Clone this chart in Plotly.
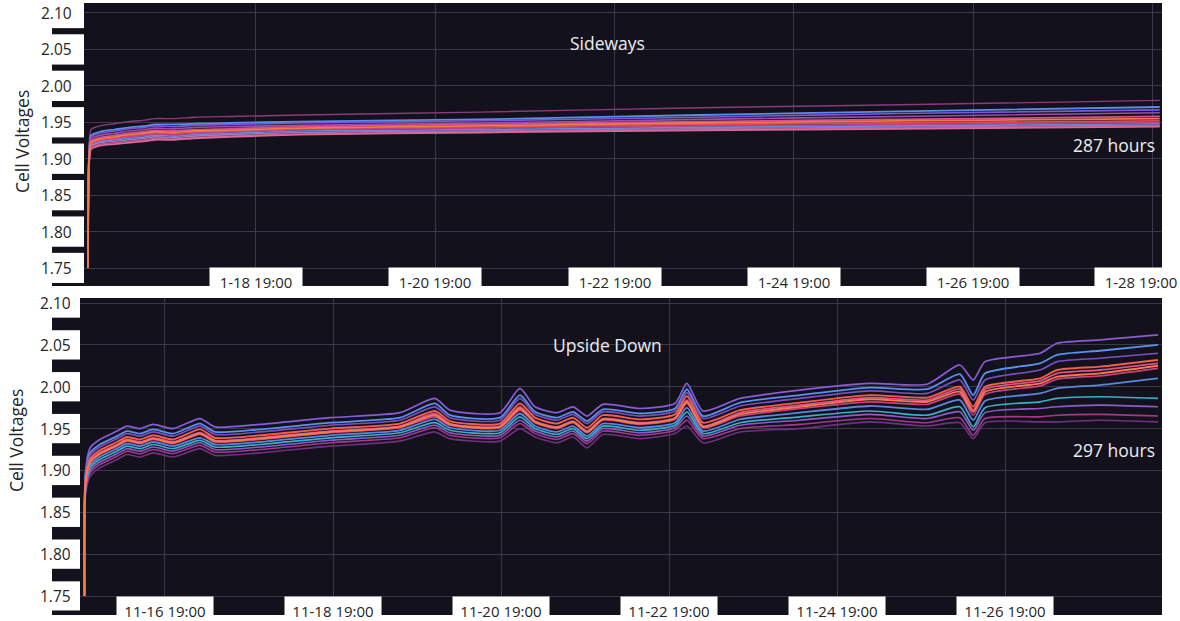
import pandas as pd
import plotly.graph_objects as go

FIG_W, FIG_H = 1180, 621

# ---------------- Sideways run (January) ----------------
SIDEWAYS_START = "2023-01-16 22:00"
sideways_hours = [0, 0.25, 0.8, 3.2, 7.2, 11.2, 15.3, 17.9, 23.3, 28.6, 38.0, 56.8, 105.0, 163.9, 217.4, 287.0]

# cell voltages in mV
sideways_c01 = [1750, 1905, 1940, 1945, 1948, 1951, 1953, 1955, 1955, 1957, 1958, 1960, 1964, 1970, 1974, 1980]
sideways_c02 = [1750, 1900, 1932, 1937, 1940, 1943, 1945, 1947, 1947, 1948, 1949, 1951, 1954, 1960, 1965, 1971]
sideways_c03 = [1750, 1898, 1930, 1935, 1938, 1941, 1943, 1945, 1944, 1946, 1947, 1949, 1952, 1957, 1962, 1967]
sideways_c04 = [1750, 1896, 1927, 1932, 1935, 1938, 1940, 1942, 1941, 1943, 1944, 1946, 1949, 1954, 1958, 1963]
sideways_c05 = [1750, 1894, 1924, 1929, 1932, 1935, 1937, 1939, 1938, 1940, 1941, 1944, 1947, 1951, 1954, 1958]
sideways_c06 = [1750, 1892, 1922, 1927, 1930, 1933, 1935, 1937, 1936, 1938, 1939, 1942, 1945, 1949, 1952, 1955]
sideways_c07 = [1750, 1890, 1920, 1925, 1928, 1931, 1933, 1935, 1934, 1936, 1938, 1941, 1943, 1947, 1949, 1952]
sideways_c08 = [1750, 1889, 1919, 1924, 1927, 1930, 1932, 1934, 1933, 1935, 1937, 1940, 1942, 1945, 1947, 1950]
sideways_c09 = [1750, 1888, 1918, 1923, 1926, 1928, 1930, 1932, 1931, 1933, 1935, 1938, 1940, 1943, 1945, 1948]
sideways_c10 = [1750, 1887, 1917, 1922, 1924, 1926, 1928, 1930, 1929, 1931, 1933, 1936, 1938, 1941, 1943, 1946]
sideways_c11 = [1750, 1886, 1915, 1920, 1922, 1924, 1926, 1928, 1927, 1929, 1931, 1934, 1937, 1940, 1942, 1945]
sideways_c12 = [1750, 1885, 1913, 1918, 1920, 1922, 1924, 1926, 1926, 1928, 1930, 1933, 1936, 1939, 1941, 1944]

# ---------------- Upside-down run (November) ----------------
UPSIDE_START = "2022-11-15 20:00"
upside_hours = [0, 0.3, 1.6, 4.4, 9.3, 12.1, 15.9, 19.6, 25.3, 33.0, 37.3, 50.1, 70.1, 90.1, 100.1, 104.4,
                118.7, 124.4, 128.7, 135.0, 139.6, 143.6, 148.1, 158.7, 168.7, 172.1, 176.7, 187.3, 204.4,
                224.4, 240.7, 250.1, 253.9, 257.3, 273.0, 277.9, 290.1, 306.7]

upside_a = [1750, 1899, 1927, 1937, 1947, 1953, 1950, 1955, 1950, 1962, 1952, 1955, 1963, 1969, 1986, 1972, 1969, 1998, 1976,
            1969, 1976, 1965, 1979, 1974, 1980, 2004, 1971, 1986, 1996, 2004, 2003, 2026, 2008, 2030, 2040, 2052, 2056, 2062]
upside_b = [1750, 1895, 1921, 1931, 1941, 1947, 1944, 1949, 1944, 1956, 1946, 1949, 1957, 1963, 1980, 1966, 1963, 1990, 1970,
            1963, 1970, 1959, 1973, 1968, 1974, 1997, 1965, 1981, 1990, 1999, 1997, 2015, 1990, 2016, 2028, 2038, 2043, 2050]
upside_c = [1750, 1892, 1918, 1928, 1938, 1944, 1941, 1946, 1941, 1953, 1943, 1946, 1954, 1960, 1976, 1963, 1960, 1986, 1967,
            1960, 1967, 1956, 1970, 1965, 1971, 1993, 1962, 1977, 1986, 1995, 1992, 2008, 1984, 2008, 2020, 2030, 2034, 2040]
upside_d = [1750, 1889, 1914, 1924, 1934, 1940, 1937, 1942, 1937, 1949, 1939, 1942, 1950, 1956, 1971, 1959, 1956, 1980, 1963,
            1956, 1963, 1951, 1966, 1961, 1967, 1989, 1957, 1972, 1981, 1990, 1987, 2000, 1976, 2000, 2010, 2020, 2024, 2032]
upside_e = [1750, 1886, 1911, 1921, 1931, 1937, 1934, 1939, 1934, 1945, 1936, 1939, 1947, 1953, 1968, 1956, 1953, 1976, 1959,
            1952, 1959, 1947, 1962, 1957, 1963, 1984, 1953, 1969, 1978, 1987, 1984, 1997, 1972, 1997, 2007, 2016, 2020, 2028]
upside_f = [1750, 1885, 1910, 1920, 1930, 1936, 1933, 1938, 1933, 1944, 1935, 1938, 1946, 1952, 1966, 1955, 1952, 1974, 1958,
            1951, 1958, 1946, 1961, 1956, 1962, 1982, 1952, 1967, 1976, 1985, 1982, 1994, 1970, 1994, 2004, 2012, 2016, 2025]
upside_g = [1750, 1884, 1909, 1919, 1929, 1935, 1932, 1937, 1932, 1943, 1934, 1937, 1945, 1951, 1964, 1954, 1951, 1972, 1957,
            1950, 1957, 1945, 1960, 1955, 1961, 1980, 1951, 1965, 1974, 1982, 1979, 1991, 1966, 1991, 2001, 2009, 2013, 2022]
upside_h = [1750, 1881, 1906, 1916, 1926, 1932, 1929, 1934, 1929, 1939, 1931, 1934, 1942, 1948, 1961, 1951, 1948, 1968, 1953,
            1946, 1953, 1941, 1956, 1951, 1957, 1975, 1947, 1961, 1969, 1977, 1973, 1984, 1960, 1983, 1992, 1998, 2002, 2010]
upside_i = [1750, 1879, 1903, 1913, 1923, 1929, 1926, 1931, 1926, 1936, 1928, 1931, 1939, 1945, 1957, 1948, 1945, 1964, 1950,
            1943, 1950, 1938, 1953, 1948, 1954, 1970, 1944, 1957, 1964, 1971, 1966, 1976, 1952, 1975, 1982, 1986, 1988, 1986]
upside_j = [1750, 1877, 1900, 1910, 1920, 1926, 1923, 1928, 1923, 1933, 1925, 1928, 1936, 1942, 1954, 1945, 1942, 1960, 1947,
            1940, 1947, 1935, 1950, 1945, 1951, 1965, 1941, 1954, 1960, 1967, 1962, 1970, 1948, 1969, 1974, 1976, 1978, 1976]
upside_k = [1750, 1874, 1897, 1907, 1917, 1923, 1920, 1925, 1920, 1930, 1922, 1925, 1933, 1939, 1951, 1942, 1939, 1956, 1944,
            1937, 1944, 1932, 1947, 1942, 1948, 1960, 1938, 1950, 1955, 1962, 1957, 1963, 1942, 1962, 1964, 1966, 1967, 1965]
upside_l = [1750, 1871, 1893, 1903, 1913, 1919, 1916, 1921, 1916, 1926, 1918, 1921, 1929, 1935, 1946, 1938, 1935, 1950, 1940,
            1933, 1940, 1927, 1943, 1938, 1944, 1953, 1933, 1946, 1950, 1958, 1953, 1957, 1938, 1957, 1958, 1958, 1960, 1958]

# ---------------- axis labels ----------------
y_tick_values = [1.75, 1.80, 1.85, 1.90, 1.95, 2.00, 2.05, 2.10]
sideways_tick_times = ["2023-01-18 19:00", "2023-01-20 19:00", "2023-01-22 19:00",
                       "2023-01-24 19:00", "2023-01-26 19:00", "2023-01-28 19:00"]
sideways_tick_text = ["1-18 19:00", "1-20 19:00", "1-22 19:00", "1-24 19:00", "1-26 19:00", "1-28 19:00"]
upside_tick_times = ["2022-11-16 19:00", "2022-11-18 19:00", "2022-11-20 19:00",
                     "2022-11-22 19:00", "2022-11-24 19:00", "2022-11-26 19:00"]
upside_tick_text = ["11-16 19:00", "11-18 19:00", "11-20 19:00", "11-22 19:00", "11-24 19:00", "11-26 19:00"]

# ---------------- styling ----------------
FONT = "Open Sans, Noto Sans, sans-serif"
DARK = "#13121c"
GRID = "#3a3947"
TEXT_DARK = "#262626"
TEXT_LIGHT = "#ececf0"


def px_x(p):
    return p / FIG_W


def px_y(p):
    return 1 - p / FIG_H


TOP_DOM_X = [px_x(84), px_x(1162)]
TOP_DOM_Y = [px_y(286), px_y(3)]
BOT_DOM_X = [px_x(80), px_x(1162)]
BOT_DOM_Y = [px_y(615), px_y(298)]
TOP_YRANGE = [1.7253, 2.1137]
BOT_YRANGE = [1.7273, 2.106]
TOP_XRANGE = ["2023-01-16 20:57", "2023-01-28 21:36"]
BOT_XRANGE = ["2022-11-15 18:43", "2022-11-28 15:51"]
TWO_DAYS_MS = 48 * 3600 * 1000


def times(start, hours):
    return pd.Timestamp(start) + pd.to_timedelta(hours, unit="h")


def volts(mv):
    return [v / 1000 for v in mv]


fig = go.Figure()

# Sideways cells (orange drawn last so the start-up ramp shows on top)
sideways_series = [
    (sideways_c01, "#8c3a7a", 1.4),
    (sideways_c02, "#5a8ee8", 1.8),
    (sideways_c03, "#7c58d6", 1.6),
    (sideways_c04, "#9a4fb0", 1.6),
    (sideways_c05, "#d9508c", 1.8),
    (sideways_c07, "#e8484e", 1.8),
    (sideways_c08, "#b8428a", 1.6),
    (sideways_c09, "#6f86d8", 1.6),
    (sideways_c10, "#9b7ad0", 1.6),
    (sideways_c11, "#c45080", 1.6),
    (sideways_c12, "#d86a96", 1.8),
    (sideways_c06, "#f07a45", 1.8),
]
t_side = times(SIDEWAYS_START, sideways_hours)
for vals, col, w in sideways_series:
    fig.add_trace(go.Scatter(x=t_side, y=volts(vals), mode="lines",
                             line=dict(color=col, width=w, shape="spline", smoothing=0.5),
                             xaxis="x", yaxis="y", hoverinfo="skip"))

upside_series = [
    (upside_l, "#6e3080", 1.6),
    (upside_k, "#a23a8a", 1.6),
    (upside_j, "#8e5cc8", 1.6),
    (upside_i, "#3ab0c8", 1.7),
    (upside_h, "#5a86e0", 1.8),
    (upside_a, "#8a5cd6", 1.7),
    (upside_b, "#5b8ff0", 1.8),
    (upside_c, "#7a50c0", 1.7),
    (upside_g, "#c8407c", 1.7),
    (upside_e, "#e0508a", 1.8),
    (upside_d, "#f0604d", 1.9),
    (upside_f, "#f47a50", 1.9),
]
t_up = times(UPSIDE_START, upside_hours)
for vals, col, w in upside_series:
    fig.add_trace(go.Scatter(x=t_up, y=volts(vals), mode="lines",
                             line=dict(color=col, width=w, shape="spline", smoothing=0.6),
                             xaxis="x2", yaxis="y2", hoverinfo="skip"))

axis_common = dict(showticklabels=False, showgrid=True, gridcolor=GRID, gridwidth=1,
                   zeroline=False, showline=False, ticks="", fixedrange=True)

fig.update_layout(
    width=FIG_W, height=FIG_H, autosize=False,
    margin=dict(l=0, r=0, t=0, b=0),
    paper_bgcolor="white", plot_bgcolor=DARK,
    showlegend=False, hovermode=False,
    font=dict(family=FONT),
    xaxis=dict(domain=TOP_DOM_X, range=TOP_XRANGE, type="date", anchor="y",
               tick0="2023-01-18 19:00", dtick=TWO_DAYS_MS, **axis_common),
    yaxis=dict(domain=TOP_DOM_Y, range=TOP_YRANGE, anchor="x",
               tick0=1.75, dtick=0.05, **axis_common),
    xaxis2=dict(domain=BOT_DOM_X, range=BOT_XRANGE, type="date", anchor="y2",
                tick0="2022-11-16 19:00", dtick=TWO_DAYS_MS, **axis_common),
    yaxis2=dict(domain=BOT_DOM_Y, range=BOT_YRANGE, anchor="x2",
                tick0=1.75, dtick=0.05, **axis_common),
)

shapes = []
annotations = []


def left_strip(yref, x0, x1, half, bottom_top, yrange):
    # dark gaps between the white tick-label boxes along the left edge
    for a, b in zip(y_tick_values[:-1], y_tick_values[1:]):
        mid = (a + b) / 2
        shapes.append(dict(type="rect", xref="paper", yref=yref, x0=px_x(x0), x1=px_x(x1),
                           y0=mid - half, y1=mid + half, fillcolor=DARK, line=dict(width=0),
                           layer="above"))
    shapes.append(dict(type="rect", xref="paper", yref=yref, x0=px_x(x0), x1=px_x(x1),
                       y0=yrange[0], y1=bottom_top, fillcolor=DARK, line=dict(width=0),
                       layer="above"))


left_strip("y", 52, 84, 0.0042, 1.75 - 0.0206, TOP_YRANGE)
left_strip("y2", 52, 80, 0.0075, 1.75 - 0.0173, BOT_YRANGE)

# y tick labels
for v in y_tick_values:
    annotations.append(dict(x=px_x(74), xref="paper", y=v, yref="y", text=f"{v:.2f}",
                            xanchor="right", yanchor="middle", showarrow=False,
                            font=dict(size=15.5, color=TEXT_DARK, family=FONT)))
    annotations.append(dict(x=px_x(73), xref="paper", y=v, yref="y2", text=f"{v:.2f}",
                            xanchor="right", yanchor="middle", showarrow=False,
                            font=dict(size=15.5, color=TEXT_DARK, family=FONT)))

# x tick labels in white boxes
for i, (t, txt) in enumerate(zip(sideways_tick_times, sideways_tick_text)):
    annotations.append(dict(x=t, xref="x", y=px_y(281), yref="paper", text=txt,
                            xanchor="center", yanchor="middle", showarrow=False,
                            bgcolor="white", width=90, height=25, borderpad=1,
                            xshift=-11 if i == len(sideways_tick_times) - 1 else 0,
                            font=dict(size=15, color=TEXT_DARK, family=FONT)))
for t, txt in zip(upside_tick_times, upside_tick_text):
    annotations.append(dict(x=t, xref="x2", y=px_y(610), yref="paper", text=txt,
                            xanchor="center", yanchor="middle", showarrow=False,
                            bgcolor="white", width=94, height=25, borderpad=1,
                            font=dict(size=15, color=TEXT_DARK, family=FONT)))

# y-axis titles
annotations.append(dict(x=px_x(22), xref="paper", y=px_y(142), yref="paper", text="Cell Voltages",
                        textangle=-90, showarrow=False, xanchor="center", yanchor="middle",
                        font=dict(size=17.5, color=TEXT_DARK, family=FONT)))
annotations.append(dict(x=px_x(16), xref="paper", y=px_y(441), yref="paper", text="Cell Voltages",
                        textangle=-90, showarrow=False, xanchor="center", yanchor="middle",
                        font=dict(size=17.5, color=TEXT_DARK, family=FONT)))

# in-plot captions
for txt, cx, cy in [("Sideways", 607, 43), ("287 hours", 1114, 145),
                    ("Upside Down", 607, 345), ("297 hours", 1114, 450)]:
    annotations.append(dict(x=px_x(cx), xref="paper", y=px_y(cy), yref="paper", text=txt,
                            showarrow=False, xanchor="center", yanchor="middle",
                            font=dict(size=17.5, color=TEXT_LIGHT, family=FONT)))

fig.update_layout(shapes=shapes, annotations=annotations)

fig.write_html("out.html")
